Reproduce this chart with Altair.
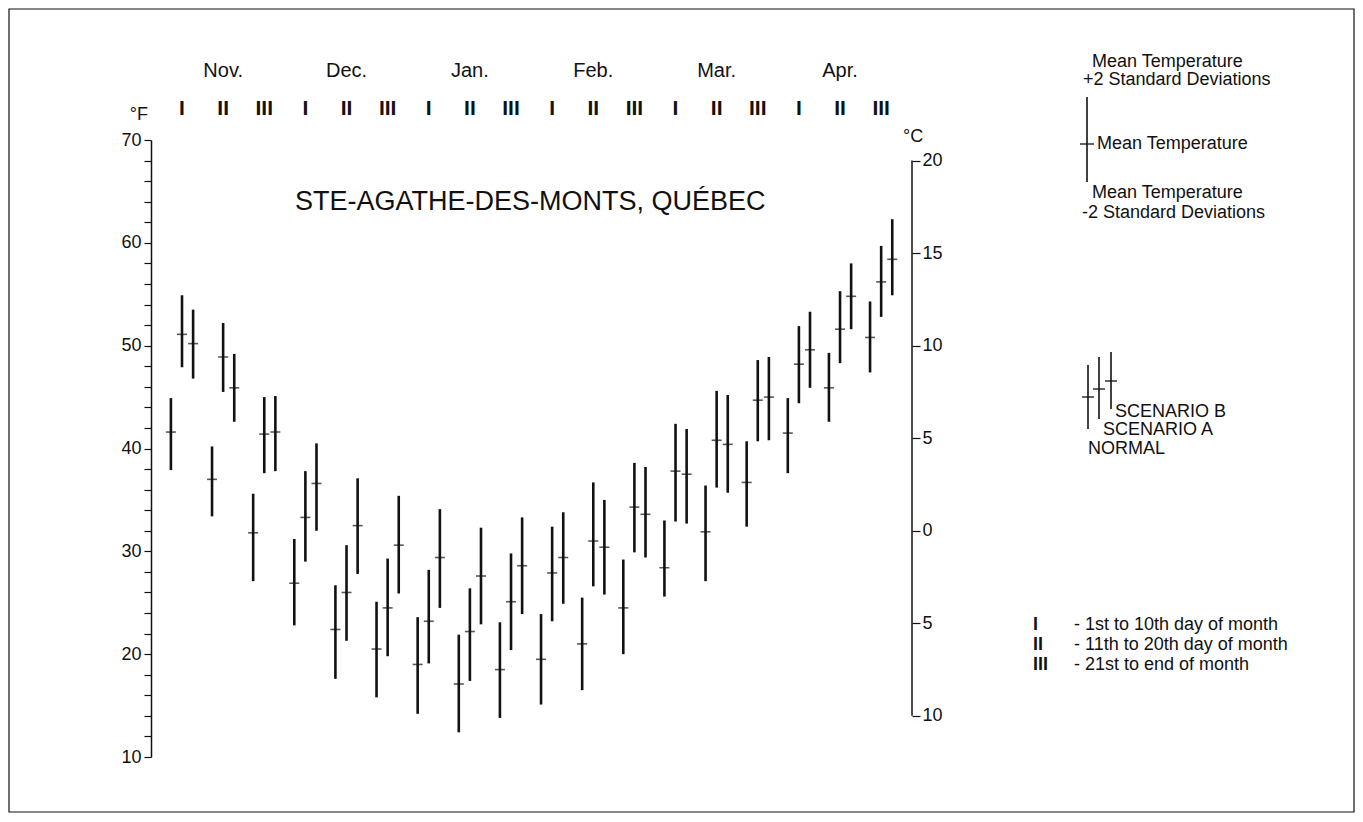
import altair as alt
import pandas as pd

# ---------------- data (°F) ----------------
months = ["Nov.", "Dec.", "Jan.", "Feb.", "Mar.", "Apr."]
dekad_roman = ["I", "II", "III"]
series_names = ["NORMAL", "SCENARIO A", "SCENARIO B"]

normal_mean = [41.6, 37.0, 31.8, 26.9, 22.4, 20.5, 19.0, 17.1, 18.5, 19.5, 21.0, 24.5, 28.4, 31.9, 36.7, 41.5, 45.9, 50.8]
normal_lo = [37.9, 33.4, 27.1, 22.8, 17.6, 15.8, 14.2, 12.4, 13.8, 15.1, 16.5, 20.0, 25.6, 27.1, 32.4, 37.6, 42.6, 47.4]
normal_hi = [44.9, 40.2, 35.6, 31.2, 26.7, 25.1, 23.6, 21.9, 23.1, 23.9, 25.5, 29.2, 33.0, 36.4, 40.7, 44.9, 49.3, 54.3]

a_mean = [51.1, 48.9, 41.4, 33.3, 26.0, 24.5, 23.2, 22.2, 25.1, 27.9, 31.0, 34.3, 37.8, 40.8, 44.7, 48.2, 51.6, 56.2]
a_lo = [47.9, 45.5, 37.6, 29.0, 21.3, 19.8, 19.1, 17.4, 20.4, 23.2, 26.6, 29.9, 32.9, 36.2, 40.7, 44.4, 48.3, 52.8]
a_hi = [54.9, 52.2, 45.0, 37.8, 30.6, 29.3, 28.2, 26.4, 29.8, 32.4, 36.7, 38.6, 42.4, 45.6, 48.6, 51.9, 55.3, 59.7]

b_mean = [50.2, 45.9, 41.6, 36.6, 32.5, 30.6, 29.4, 27.6, 28.6, 29.4, 30.4, 33.6, 37.5, 40.4, 45.0, 49.6, 54.8, 58.4]
b_lo = [46.8, 42.6, 37.8, 32.0, 27.8, 25.9, 24.5, 22.9, 23.9, 24.9, 25.8, 29.4, 32.7, 35.7, 40.8, 45.9, 51.6, 54.9]
b_hi = [53.5, 49.2, 45.1, 40.5, 37.1, 35.4, 34.1, 32.3, 33.3, 33.8, 35.0, 38.2, 41.9, 45.2, 48.9, 53.3, 58.0, 62.3]

celsius_ticks = [-10, -5, 0, 5, 10, 15, 20]
fahrenheit_ticks = list(range(10, 71, 2))

# ---------------- tables ----------------
offsets = {"NORMAL": -0.27, "SCENARIO A": 0.0, "SCENARIO B": 0.27}
groups = {
    "NORMAL": (normal_mean, normal_lo, normal_hi),
    "SCENARIO A": (a_mean, a_lo, a_hi),
    "SCENARIO B": (b_mean, b_lo, b_hi),
}
rows = []
for i in range(18):
    for s in series_names:
        m, lo, hi = groups[s]
        rows.append({"pos": i + offsets[s], "mean": m[i], "lo": lo[i], "hi": hi[i], "series": s})
df = pd.DataFrame(rows)

month_df = pd.DataFrame({"month": months, "pos": [3 * i + 1 for i in range(len(months))]})
dekad_df = pd.DataFrame({"roman": dekad_roman * len(months), "pos": list(range(3 * len(months)))})

# ---------------- styling ----------------
FONT = "Liberation Sans"
INK = "#111111"
W, H = 761, 617
xscale = alt.Scale(domain=[-0.754, 17.75])
yscale = alt.Scale(domain=[10, 70])
cscale = alt.Scale(domain=[(10 - 32) / 1.8, (70 - 32) / 1.8])
one = alt.Data(values=[{}])


def label(text, x, y, size=18, align="left", baseline="middle", weight="normal"):
    return alt.Chart(one).mark_text(
        text=text, align=align, baseline=baseline, fontSize=size, font=FONT,
        color=INK, fontWeight=weight
    ).encode(x=alt.value(x), y=alt.value(y))


def vbar(x, y1, y2, width=1.6):
    return alt.Chart(one).mark_rule(color=INK, strokeWidth=width).encode(
        x=alt.value(x), y=alt.value(y1), y2=alt.value(y2))


def hbar(x1, x2, y, width=1.3):
    return alt.Chart(one).mark_rule(color=INK, strokeWidth=width).encode(
        x=alt.value(x1), x2=alt.value(x2), y=alt.value(y))


bars = alt.Chart(df).mark_rule(strokeWidth=2.6, color=INK).encode(
    x=alt.X("pos:Q", scale=xscale, axis=None),
    y=alt.Y("lo:Q", scale=yscale, axis=alt.Axis(
        orient="left", title=None, values=fahrenheit_ticks, tickCount=len(fahrenheit_ticks),
        grid=False, labelOverlap=False,
        labelExpr="datum.value % 10 == 0 ? datum.label : ''",
        tickSize=7, tickWidth=1.2, tickColor=INK, domainColor=INK, domainWidth=1.5,
        labelFontSize=18, labelColor=INK, labelFont=FONT, labelPadding=3)),
    y2="hi:Q",
)
means = alt.Chart(df).mark_tick(orient="horizontal", size=10, thickness=1.6, color=INK).encode(
    x=alt.X("pos:Q", scale=xscale),
    y=alt.Y("mean:Q", scale=yscale),
)
month_text = alt.Chart(month_df).mark_text(
    fontSize=20, font=FONT, color=INK, align="center", baseline="alphabetic"
).encode(x=alt.X("pos:Q", scale=xscale), y=alt.value(-63), text="month:N")
dekad_text = alt.Chart(dekad_df).mark_text(
    fontSize=21, font=FONT, fontWeight="bold", color=INK, align="center", baseline="alphabetic"
).encode(x=alt.X("pos:Q", scale=xscale), y=alt.value(-25), text="roman:N")

annotations = [
    label("STE-AGATHE-DES-MONTS, QUÉBEC", 144, 70, size=27, baseline="alphabetic"),
    label("°F", -3, -25, size=18, align="right"),
    label("°C", 752, -3, size=18),
    # key for error bar
    label("Mean Temperature", 941, -78),
    label("+2 Standard Deviations", 932, -60),
    vbar(936, -43, 42),
    hbar(929, 943, 4),
    label("Mean Temperature", 946, 4),
    label("Mean Temperature", 941, 53),
    label("-2 Standard Deviations", 931, 73),
    # key for series
    vbar(937, 225, 289), hbar(931, 943, 257),
    vbar(948, 217, 279), hbar(942, 954, 249),
    vbar(960, 212, 269), hbar(954, 966, 241),
    label("SCENARIO B", 964, 272),
    label("SCENARIO A", 952, 290),
    label("NORMAL", 937, 309),
    # key for dekads
    label("I", 882, 485, weight="bold"),
    label("II", 882, 505, weight="bold"),
    label("III", 882, 525, weight="bold"),
    label("-  1st to 10th day of month", 923, 485),
    label("-  11th to 20th day of month", 923, 505),
    label("-  21st to end of month", 923, 525),
]

border = alt.Chart(one).mark_rect(fillOpacity=0, stroke=INK, strokeWidth=1.2).encode(
    x=alt.value(-142), x2=alt.value(1203), y=alt.value(-131), y2=alt.value(672))

main = alt.layer(bars, means, month_text, dekad_text, border, *annotations)

right_axis = alt.Chart(one).mark_rule(color=INK, strokeWidth=1.5).encode(
    x=alt.value(W),
    y=alt.YDatum(-10, scale=cscale, axis=alt.Axis(
        orient="right", title=None, values=celsius_ticks, tickCount=len(celsius_ticks),
        grid=False, domain=False, labelOverlap=False,
        labelExpr="'' + abs(datum.value)",
        tickSize=8, tickWidth=1.2, tickColor=INK,
        labelFontSize=18, labelColor=INK, labelFont=FONT, labelPadding=2)),
    y2=alt.Y2Datum(20),
)

chart = alt.layer(main, right_axis).resolve_scale(y="independent").properties(
    width=W, height=H, autosize="none",
    padding={"left": 143, "top": 132, "right": 443, "bottom": 57},
    background="white",
).configure_view(stroke=None)

chart.save("out.html", embed_options={"renderer": "svg", "actions": False})
